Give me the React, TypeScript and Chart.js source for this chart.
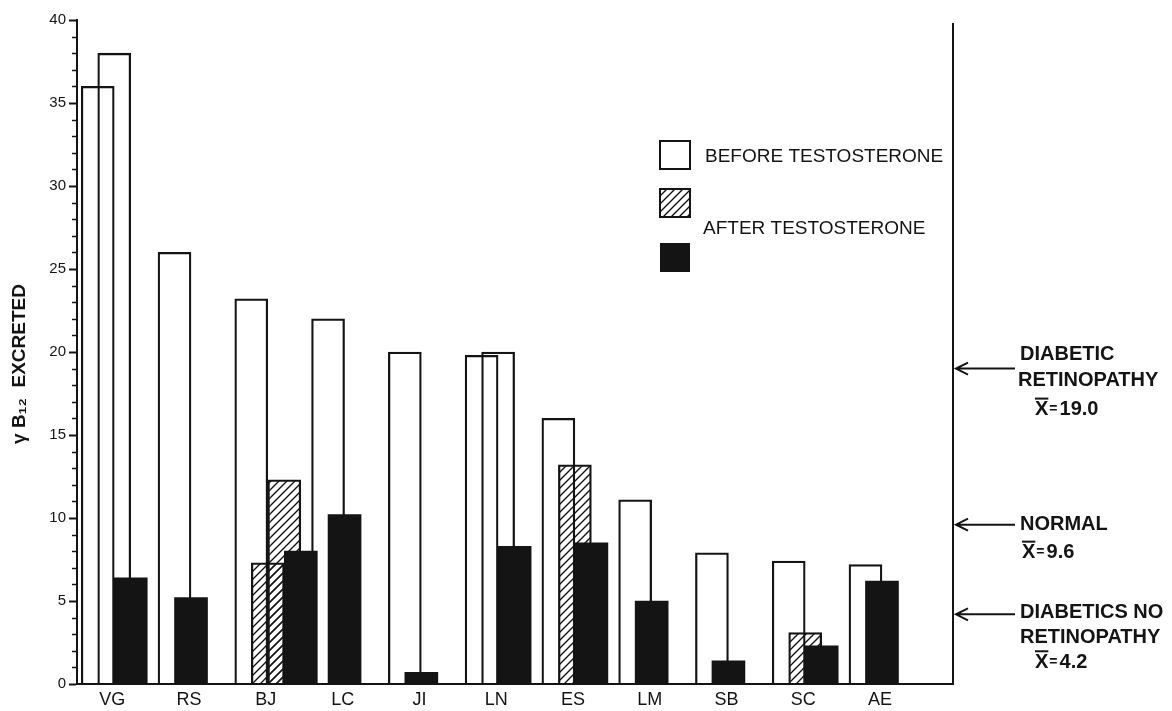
import React, { useEffect, useRef } from 'react';
import { Chart, registerables } from 'chart.js';

Chart.register(...registerables);

// ---------------- data ----------------
const categories = ['VG', 'RS', 'BJ', 'LC', 'JI', 'LN', 'ES', 'LM', 'SB', 'SC', 'AE'];
const beforeValues = [36, 26, 23.2, 22, 20, 19.8, 16, 11.1, 7.9, 7.4, 7.2];
const beforeRepeatValues = [38, null, null, null, null, 20, null, null, null, null, null];
const hatchedValues = [null, null, 7.3, null, null, null, 13.2, null, null, 3.1, null];
const hatchedRepeatValues = [null, null, 12.3, null, null, null, null, null, null, null, null];
const afterValues = [6.4, 5.2, 8.0, 10.2, 0.7, 8.3, 8.5, 5.0, 1.4, 2.3, 6.2];
const yMin = 0;
const yMax = 40;
const yMajorStep = 5;
const referenceMeans = [19.0, 9.6, 4.2];
const referenceLabels = [
  ['DIABETIC', 'RETINOPATHY'],
  ['NORMAL'],
  ['DIABETICS NO', 'RETINOPATHY'],
];
const legendBeforeLabel = 'BEFORE TESTOSTERONE';
const legendAfterLabel = 'AFTER TESTOSTERONE';
const yTitle = 'γ B₁₂  EXCRETED';

// ---------------- style / layout ----------------
const INK = '#141414';
const FONT = '"Liberation Sans", "DejaVu Sans", Arial, sans-serif';
const BAR_PX = 33;
const STEP = 0.215; // half a bar width, in group units
const LABEL_SHIFT = 0.19;
const X_MIN = -0.27;
const X_MAX = 11.14;
const refLineOffsets = [[-14, 12, 41], [0, 28], [-2, 23, 48]];
const refIndents = [[0, -2, 15], [0, 2], [0, 0, 15]];

function makeHatch(ctx: CanvasRenderingContext2D) {
  const c = document.createElement('canvas');
  c.width = 8;
  c.height = 8;
  const g = c.getContext('2d')!;
  g.strokeStyle = INK;
  g.lineWidth = 1.4;
  g.beginPath();
  g.moveTo(0, 8);
  g.lineTo(8, 0);
  g.moveTo(-2, 2);
  g.lineTo(2, -2);
  g.moveTo(6, 10);
  g.lineTo(10, 6);
  g.stroke();
  return ctx.createPattern(c, 'repeat')!;
}

export default function App() {
  const ref = useRef<HTMLCanvasElement>(null);

  useEffect(() => {
    document.body.style.margin = '0';
    const canvas = ref.current!;
    const ctx2d = canvas.getContext('2d')!;
    const hatch = makeHatch(ctx2d);

    const seriesList = [
      { label: legendBeforeLabel, values: beforeValues, kind: 'open' },
      { label: legendBeforeLabel + ' (repeat)', values: beforeRepeatValues, kind: 'open' },
      { label: 'INTERMEDIATE', values: hatchedValues, kind: 'hatched' },
      { label: 'INTERMEDIATE (repeat)', values: hatchedRepeatValues, kind: 'hatched' },
      { label: legendAfterLabel, values: afterValues, kind: 'solid' },
    ];

    const datasets = seriesList.map((s, si) => {
      const data: { x: number; y: number }[] = [];
      s.values.forEach((v, i) => {
        if (v == null) return;
        let slot = 0;
        for (let k = 0; k < si; k++) if (seriesList[k].values[i] != null) slot++;
        data.push({ x: i + slot * STEP, y: v as number });
      });
      const style =
        s.kind === 'open'
          ? { backgroundColor: 'rgba(0,0,0,0)', borderColor: INK, borderWidth: 1.6 }
          : s.kind === 'hatched'
          ? { backgroundColor: hatch, borderColor: INK, borderWidth: 1.6 }
          : { backgroundColor: INK, borderColor: INK, borderWidth: 0 };
      return {
        label: s.label,
        data,
        grouped: false,
        barThickness: BAR_PX,
        order: seriesList.length - si,
        ...style,
      };
    });

    const decor = {
      id: 'decor',
      afterDraw(chart: any) {
        const { ctx, chartArea, scales } = chart;
        const y = scales.y;
        ctx.save();
        ctx.strokeStyle = INK;
        ctx.fillStyle = INK;
        // minor ticks
        ctx.lineWidth = 1.5;
        y.ticks.forEach((t: any) => {
          if (t.value % yMajorStep === 0) return;
          const py = Math.round(y.getPixelForValue(t.value)) + 0.5;
          ctx.beginPath();
          ctx.moveTo(chartArea.left - 5, py);
          ctx.lineTo(chartArea.left, py);
          ctx.stroke();
        });
        // y-axis title
        ctx.save();
        ctx.translate(20, (chartArea.top + chartArea.bottom) / 2 + 12);
        ctx.rotate(-Math.PI / 2);
        ctx.font = 'bold 19px ' + FONT;
        ctx.textAlign = 'center';
        ctx.textBaseline = 'middle';
        ctx.fillText(yTitle, 0, 0);
        ctx.restore();
        // right vertical line
        ctx.lineWidth = 2;
        ctx.beginPath();
        ctx.moveTo(chartArea.right, chartArea.top + 3);
        ctx.lineTo(chartArea.right, chartArea.bottom + 1);
        ctx.stroke();

        // reference arrows and labels
        const tipX = chartArea.right + 3;
        referenceMeans.forEach((m, ri) => {
          const py = y.getPixelForValue(m);
          ctx.lineWidth = 2;
          ctx.beginPath();
          ctx.moveTo(tipX, py);
          ctx.lineTo(chartArea.right + 62, py);
          ctx.moveTo(tipX + 12, py - 6);
          ctx.lineTo(tipX, py);
          ctx.lineTo(tipX + 12, py + 6);
          ctx.stroke();
          ctx.font = 'bold 20px ' + FONT;
          ctx.textBaseline = 'middle';
          ctx.textAlign = 'left';
          const tx = chartArea.right + 67;
          const lines = referenceLabels[ri];
          lines.forEach((txt, li) => {
            ctx.fillText(txt, tx + refIndents[ri][li], py + refLineOffsets[ri][li]);
          });
          const li = lines.length;
          const mx = tx + refIndents[ri][li];
          const my = py + refLineOffsets[ri][li];
          ctx.fillText('X', mx, my);
          const xw = ctx.measureText('X').width;
          ctx.lineWidth = 2;
          ctx.beginPath();
          ctx.moveTo(mx, my - 11);
          ctx.lineTo(mx + xw, my - 11);
          ctx.stroke();
          ctx.font = 'bold 14px ' + FONT;
          ctx.fillText('=', mx + xw + 1, my);
          const ew = ctx.measureText('=').width;
          ctx.font = 'bold 20px ' + FONT;
          ctx.fillText(m.toFixed(1), mx + xw + ew + 3, my);
        });

        // legend
        const lx = 660;
        ctx.lineWidth = 2;
        ctx.strokeRect(lx, 141, 30, 28);
        ctx.fillStyle = hatch;
        ctx.fillRect(lx, 189, 30, 28);
        ctx.strokeRect(lx, 189, 30, 28);
        ctx.fillStyle = INK;
        ctx.fillRect(lx, 243, 30, 29);
        ctx.font = '19px ' + FONT;
        ctx.textBaseline = 'middle';
        ctx.fillText(legendBeforeLabel, 705, 157);
        ctx.fillText(legendAfterLabel, 703, 229);
        ctx.restore();
      },
    };

    const chart = new Chart(canvas, {
      type: 'bar',
      data: { datasets: datasets as any },
      options: {
        animation: false,
        responsive: false,
        events: [],
        layout: { padding: { top: 20, right: 219, bottom: 0, left: 0 } },
        plugins: { legend: { display: false }, tooltip: { enabled: false } },
        scales: {
          x: {
            type: 'linear',
            min: X_MIN,
            max: X_MAX,
            offset: false,
            grid: { display: false, drawTicks: false },
            border: { display: true, color: INK, width: 2 },
            afterBuildTicks: (scale: any) => {
              scale.ticks = categories.map((_, i) => ({ value: i + LABEL_SHIFT }));
            },
            afterFit: (scale: any) => {
              scale.height = 27;
            },
            ticks: {
              autoSkip: false,
              maxRotation: 0,
              padding: 5,
              color: INK,
              font: { family: FONT, size: 18 },
              callback: (_v: any, idx: number) => categories[idx] ?? '',
            },
          },
          y: {
            min: yMin,
            max: yMax,
            grid: {
              drawOnChartArea: false,
              drawTicks: true,
              tickLength: 8,
              tickWidth: 2,
              tickColor: (c: any) => (c.tick && c.tick.value % yMajorStep === 0 ? INK : 'rgba(0,0,0,0)'),
            },
            border: { display: true, color: INK, width: 2 },
            afterFit: (scale: any) => {
              scale.width = 77;
            },
            title: { display: false },
            ticks: {
              stepSize: 1,
              autoSkip: false,
              padding: 3,
              color: INK,
              font: { family: FONT, size: 15 },
              callback: (v: any) => (Number(v) % yMajorStep === 0 ? String(v) : ''),
            },
          },
        },
      },
      plugins: [decor],
    } as any);

    return () => chart.destroy();
  }, []);

  return (
    <div style={{ width: 1172, height: 711, background: '#fff' }}>
      <canvas ref={ref} width={1172} height={711} style={{ display: 'block' }} />
    </div>
  );
}
